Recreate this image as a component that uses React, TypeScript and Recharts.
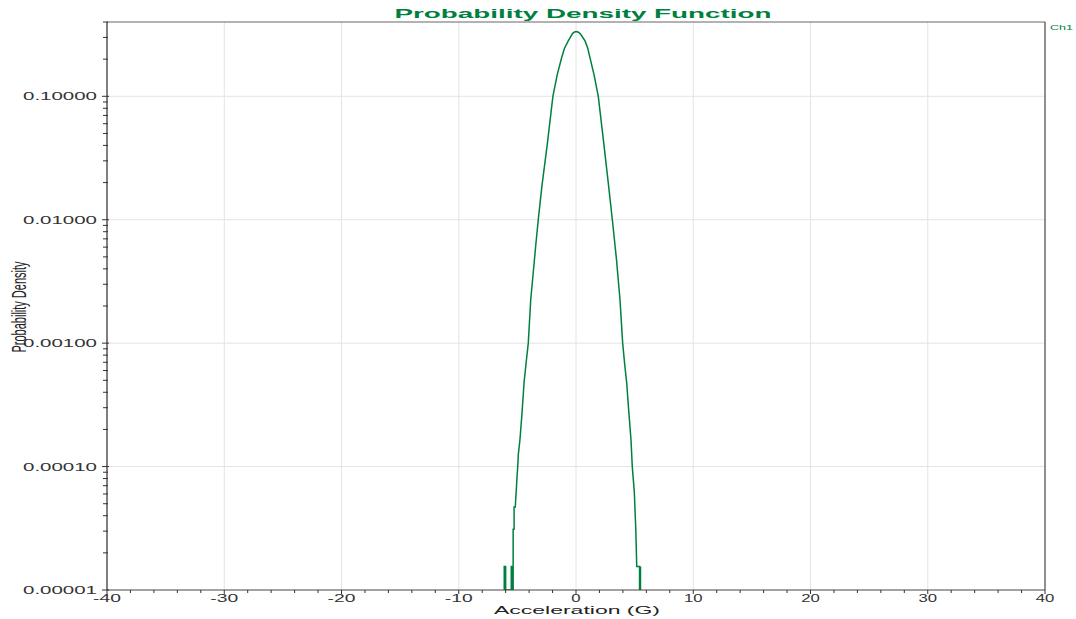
import { LineChart, Line, XAxis, YAxis, ReferenceLine } from 'recharts';

// histogram-style PDF (accel in G, density)
const accel = [
  -6.12, -6.12, -6.0, -6.0, -5.52, -5.52, -5.4, -5.4, -5.36, -5.36, -5.28, -5.28, -5.18,
  -5.1, -5.02, -4.97, -4.92, -4.78, -4.62, -4.5, -4.43, -4.25, -4.07, -3.86, -3.65, -3.44,
  -3.22, -2.9, -2.45, -1.97, -1.6, -1.22, -0.98, -0.66, -0.3, -0.12, 0.06, 0.24, 0.4, 0.77,
  1.0, 1.19, 1.55, 1.9, 2.33, 2.75, 3.1, 3.45, 3.75, 3.98, 4.15, 4.32, 4.5, 4.69, 4.8, 4.97,
  5.1, 5.18, 5.42, 5.42, 5.5, 5.5,
];
const density = [
  0.00001, 0.0000155, 0.0000155, 0.00001, 0.00001, 0.0000155, 0.0000155, 0.00001, 0.00001, 0.000031, 0.000031, 0.000047, 0.000047,
  0.000063, 0.000085, 0.0001, 0.000125, 0.000165, 0.00026, 0.00038, 0.00048, 0.0007, 0.001, 0.00226, 0.0037, 0.0061,
  0.01, 0.019, 0.0408, 0.1, 0.15, 0.206, 0.245, 0.281, 0.322, 0.332, 0.335, 0.329, 0.318, 0.281,
  0.245, 0.206, 0.148, 0.1, 0.0448, 0.02, 0.01, 0.0048, 0.00226, 0.001, 0.00068, 0.00048, 0.00028, 0.000165, 0.0001, 0.000063,
  0.000031, 0.0000155, 0.0000155, 0.00001, 0.00001, 0.0000155,
];

const yMajor = [0.00001, 0.0001, 0.001, 0.01, 0.1];
const yMinorMult = [2, 3, 4, 5, 6, 7, 8, 9];
const xMajor = [-40, -30, -20, -10, 0, 10, 20, 30, 40];
const yMax = 0.4;

const data = accel.map((x, i) => ({ x, y: density[i] }));

const yTicks = [
  ...yMajor,
  ...yMajor.flatMap((d) => yMinorMult.map((m) => Number((d * m).toPrecision(2)))),
]
  .filter((v) => v <= yMax)
  .sort((a, b) => a - b);

const xTicks: number[] = [];
for (let v = -40; v <= 40; v += 2) xTicks.push(v);

const GREEN = '#00803e';
const FONT = '"Liberation Sans", Arial, sans-serif';

const YTick = ({ x, y, payload }: any) => {
  const major = yMajor.includes(payload.value);
  const label = payload.value.toFixed(5);
  return (
    <g>
      <line x1={x - (major ? 5 : 4)} x2={x + (major ? 2 : 1)} y1={y} y2={y} stroke="#333" />
      {major && (
        <text
          x={x - 10}
          y={y + 4}
          textAnchor="end"
          fontSize={10.2}
          fontFamily={FONT}
          fill="#333"
          textLength={74}
          lengthAdjust="spacingAndGlyphs"
        >
          {label}
        </text>
      )}
    </g>
  );
};

const XTick = ({ x, y, payload }: any) => {
  const major = xMajor.includes(payload.value);
  const label = String(payload.value);
  return (
    <g>
      <line x1={x} x2={x} y1={y} y2={y + (major ? 4 : 3)} stroke="#333" />
      {major && (
        <text
          x={x}
          y={y + 12}
          textAnchor="middle"
          fontSize={10.5}
          fontFamily={FONT}
          fill="#333"
          textLength={label.length * 9.3}
          lengthAdjust="spacingAndGlyphs"
        >
          {label}
        </text>
      )}
    </g>
  );
};

export default function App() {
  return (
    <div style={{ position: 'absolute', left: 0, top: 0, width: 1076, height: 619, background: '#fff' }}>
      <LineChart width={1076} height={619} data={data} margin={{ top: 22, right: 31, left: 0, bottom: 0 }}>
        {[0.0001, 0.001, 0.01, 0.1].map((v) => (
          <ReferenceLine key={'h' + v} y={v} stroke="#e4e4e4" />
        ))}
        {[-30, -20, -10, 0, 10, 20, 30].map((v) => (
          <ReferenceLine key={'v' + v} x={v} stroke="#e4e4e4" />
        ))}
        <ReferenceLine y={yMax} stroke="#666" />
        <ReferenceLine x={40} stroke="#222" />
        <XAxis
          type="number"
          dataKey="x"
          domain={[-40, 40]}
          ticks={xTicks}
          interval={0}
          height={29}
          tickSize={0}
          tickMargin={0}
          tickLine={false}
          axisLine={{ stroke: '#444' }}
          tick={<XTick />}
        />
        <YAxis
          type="number"
          scale="log"
          domain={[0.00001, yMax]}
          allowDataOverflow
          ticks={yTicks}
          interval={0}
          width={107}
          tickSize={0}
          tickMargin={0}
          tickLine={false}
          axisLine={{ stroke: '#000' }}
          tick={<YTick />}
        />
        <Line
          type="linear"
          dataKey="y"
          stroke={GREEN}
          strokeWidth={1.5}
          dot={false}
          isAnimationActive={false}
        />
      </LineChart>
      <svg
        width={1076}
        height={619}
        style={{ position: 'absolute', left: 0, top: 0, pointerEvents: 'none' }}
      >
        <text
          x={583}
          y={18}
          textAnchor="middle"
          fontSize={12.5}
          fontWeight="bold"
          fontFamily={FONT}
          fill={GREEN}
          textLength={377}
          lengthAdjust="spacingAndGlyphs"
        >
          Probability Density Function
        </text>
        <text
          x={1050}
          y={30}
          fontSize={7}
          fontFamily={FONT}
          fill={GREEN}
          textLength={23}
          lengthAdjust="spacingAndGlyphs"
        >
          Ch1
        </text>
        <text
          x={577}
          y={614}
          textAnchor="middle"
          fontSize={11.6}
          fontFamily={FONT}
          fill="#222"
          textLength={166}
          lengthAdjust="spacingAndGlyphs"
        >
          Acceleration (G)
        </text>
        <text
          transform="translate(26,307) scale(1.8,1) rotate(-90)"
          textAnchor="middle"
          fontSize={11}
          fontFamily={FONT}
          fill="#222"
        >
          Probability Density
        </text>
      </svg>
    </div>
  );
}
